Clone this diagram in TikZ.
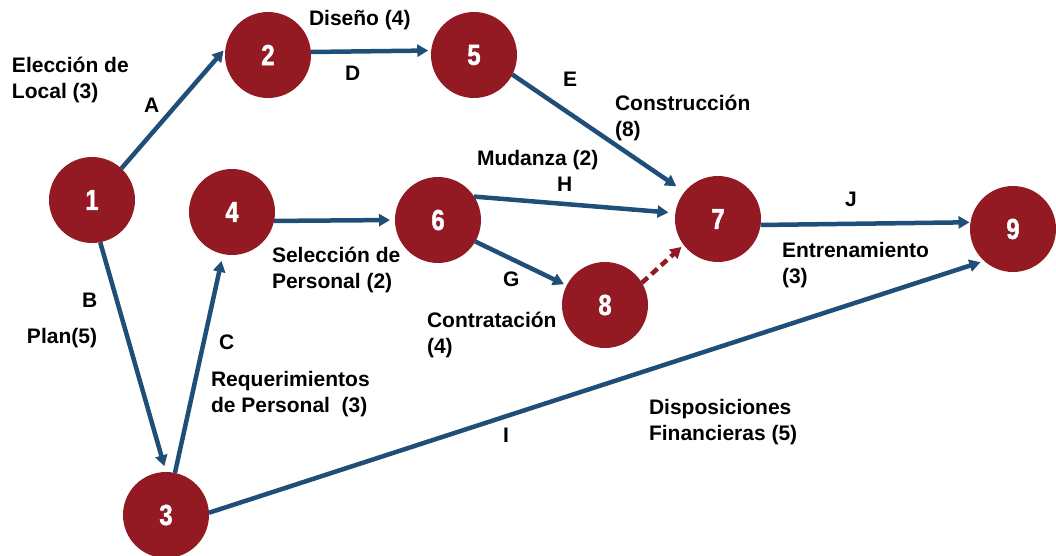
\documentclass[tikz,border=0pt]{standalone}
\usepackage{fontspec}
\setmainfont{Liberation Sans}
\newfontfamily\numfont[FakeStretch=0.82,FakeBold=1.5]{Liberation Sans Bold}
\usetikzlibrary{arrows.meta}
\definecolor{nodered}{HTML}{931A22}
\definecolor{edgeblue}{HTML}{1F4E79}
\tikzset{
  event/.style={circle, fill=nodered, draw=none, minimum size=86pt, inner sep=0pt, outer sep=0pt,
    text=white, font=\numfont\fontsize{29}{29}\selectfont},
  act/.style={draw=edgeblue, line width=4.5pt, -{Triangle[length=11pt,width=12pt]}},
  dummy/.style={draw=nodered, line width=4.5pt, dash pattern=on 8pt off 5pt, -{Triangle[length=11pt,width=12pt]}},
  lbl/.style={anchor=north west, inner sep=0pt, outer sep=0pt, align=left,
    font=\bfseries\fontsize{21}{26}\selectfont}
}
\begin{document}
\begin{tikzpicture}[x=1pt,y=-1pt]
\useasboundingbox (0,0) rectangle (1056,556);
% events
\node[event] (n1) at (92,200) {1};
\node[event] (n2) at (268,55) {2};
\node[event] (n5) at (474,55) {5};
\node[event] (n4) at (232,212) {4};
\node[event] (n6) at (438,220) {6};
\node[event] (n7) at (718,219) {7};
\node[event] (n8) at (605,305) {8};
\node[event] (n9) at (1013,229) {9};
\node[event] (n3) at (166,515) {3};
% activities
\draw[act, shorten >=3pt] (n1.47) -- (n2.171);
\draw[act, shorten >=6pt] (n1.-79) -- (n3.90);
\draw[act, shorten >=7pt] (n3.78) -- (n4.258);
\draw[act, shorten >=3pt] (n2.4) -- (n5.174);
\draw[act, shorten >=10pt] (n5.-27) -- (n7.141);
\draw[act, shorten >=5pt] (n4.-12) -- (n6.180);
\draw[act, shorten >=7pt] (n6.33) -- (n7.172);
\draw[act, shorten >=3pt] (n6.-30) -- (n8.153);
\draw[dummy, shorten >=3pt] (n8.31) -- (n7.217);
\draw[act, shorten >=1pt] (n7.-8) -- (n9.171);
\draw[act, shorten >=4pt] (n3.3) -- (n9.228);
% labels
\node[lbl] (tA1) at (12,57) {Elección de\\Local (3)};
\node[lbl] (tA) at (144,98) {A};
\node[lbl] (tD1) at (309,10) {Diseño (4)};
\node[lbl] (tD) at (345,66) {D};
\node[lbl] (tE) at (563,72) {E};
\node[lbl] (tE1) at (615,95) {Construcción\\(8)};
\node[lbl] (tH1) at (477,150) {Mudanza (2)};
\node[lbl] (tH) at (557,177) {H};
\node[lbl] (tJ) at (845,192) {J};
\node[lbl] (tJ1) at (782,242) {Entrenamiento\\(3)};
\node[lbl] (tS1) at (272,247) {Selección de\\Personal (2)};
\node[lbl] (tG) at (503,272) {G};
\node[lbl] (tG1) at (427,312) {Contratación\\(4)};
\node[lbl] (tB) at (82,293) {B};
\node[lbl] (tB1) at (27,328) {Plan(5)};
\node[lbl] (tC) at (219,335) {C};
\node[lbl] (tC1) at (211,371) {Requerimientos\\de Personal~~(3)};
\node[lbl] (tI) at (503,428) {I};
\node[lbl] (tI1) at (649,399) {Disposiciones\\Financieras (5)};
\end{tikzpicture}
\end{document}
